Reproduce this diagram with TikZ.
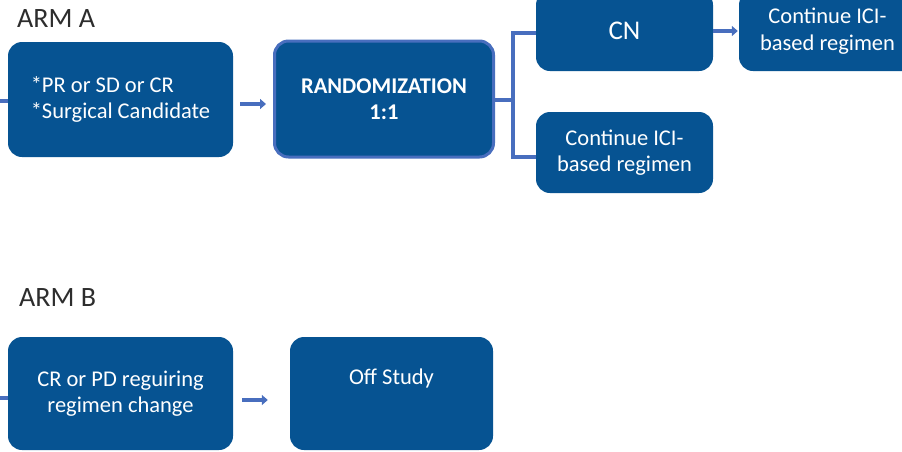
\documentclass[tikz,border=0pt]{standalone}
\usepackage{fontspec}
\setmainfont{Carlito}
\usetikzlibrary{arrows.meta}
\definecolor{boxblue}{RGB}{6,83,146}
\definecolor{linkblue}{RGB}{72,110,190}
\definecolor{labelgray}{RGB}{45,45,45}
\tikzset{
  stagebox/.style={fill=boxblue, rounded corners=14pt, text=white, align=center,
    inner sep=0pt, font=\fontsize{22.5}{26.5}\selectfont},
  link/.style={draw=linkblue, line width=4pt},
  linkarrow/.style={link, -{Triangle[length=6pt,width=10pt]}},
  armlabel/.style={text=labelgray, anchor=west, inner sep=0pt, font=\fontsize{28}{30}\selectfont}
}
\begin{document}
\begin{tikzpicture}[x=1pt,y=-1pt]
\useasboundingbox (0,0) rectangle (902,451);

% arm labels
\node[armlabel] (arma) at (17,19) {ARM A};
\node[armlabel] (armb) at (19,298) {ARM B};

% arm A boxes
\node[stagebox, minimum width=225pt, minimum height=115pt, align=left] (a1) at (120.5,99.5)
  {*PR or SD or CR\\*Surgical Candidate};
\node[stagebox, draw=linkblue, line width=3pt, minimum width=219pt, minimum height=116pt,
  font=\fontsize{22.5}{26.5}\selectfont\bfseries] (rand) at (384,99) {RANDOMIZATION\\1:1};
\node[stagebox, minimum width=177pt, minimum height=80pt, font=\fontsize{27}{30}\selectfont] (cn) at (624.5,31) {CN};
\node[stagebox, minimum width=177pt, minimum height=80pt] (r1) at (827.5,31) {Continue ICI-\\based regimen};
\node[stagebox, minimum width=177pt, minimum height=81pt] (c2) at (624.5,152.5) {Continue ICI-\\based regimen};

% arm B boxes
\node[stagebox, minimum width=225pt, minimum height=113pt] (b1) at (120.5,393.5) {CR or PD reguiring\\regimen change};
\node[stagebox, minimum width=203pt, minimum height=113pt] (off) at (391.5,393.5) {Off Study\\\strut};

% incoming lines
\coordinate (ina) at (0,101);
\coordinate (inb) at (0,398);
\draw[link] (ina) -- (ina -| a1.west);
\draw[link] (inb) -- (inb -| b1.west);

% arrows
\draw[linkarrow, shorten <=7pt, shorten >=7pt] (a1.east |- 0,104) -- (rand.west |- 0,104);
\draw[linkarrow, shorten >=1pt] (cn.east) -- (r1.west);
\draw[linkarrow, shorten <=9pt, shorten >=22pt] (b1.east |- 0,400) -- (off.west |- 0,400);

% randomization branches
\coordinate (split) at (513,100);
\draw[link] (rand.east |- split) -- (split);
\draw[link] (split) |- (cn.west |- 0,33);
\draw[link] (split) |- (c2.west |- 0,157);
\end{tikzpicture}
\end{document}
